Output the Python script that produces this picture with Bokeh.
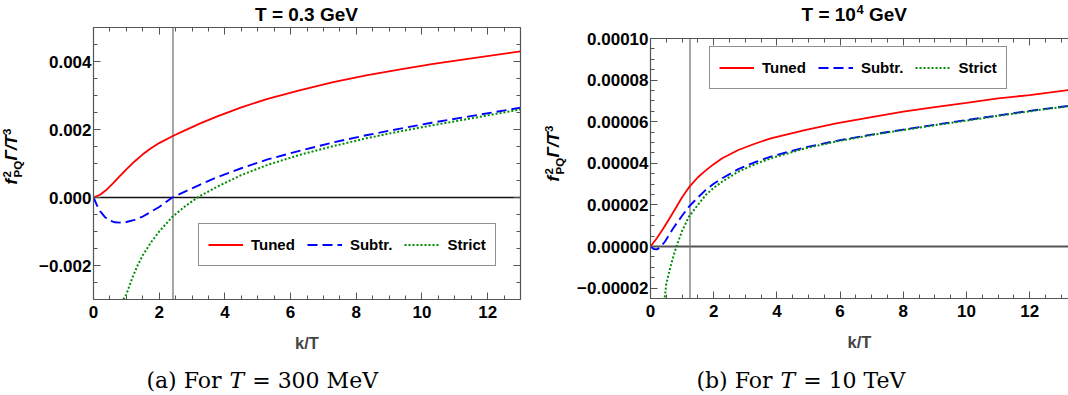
import math
import numpy as np
from bokeh.plotting import figure
from bokeh.models import (Span, Label, Legend, LegendItem, LinearAxis, FixedTicker,
                          CustomJSTickFormatter, Range1d)
from bokeh.layouts import row, column
from bokeh.embed import file_html
from bokeh.resources import INLINE

# ---------------- data: panel (a) T = 0.3 GeV ----------------
a_tuned_k = [0, 0.2, 0.4, 0.6, 0.8, 1.0, 1.25, 1.5, 1.75, 2.0, 2.4, 2.8, 3.25, 3.75, 4.5, 5.3,
             6.3, 7.3, 8.3, 9.3, 10.3, 11.4, 12.2, 13.0]
a_tuned_v = [0, 0.00008, 0.00023, 0.00042, 0.00063, 0.00083, 0.00106, 0.00127, 0.00145, 0.0016,
             0.0018, 0.00198, 0.00218, 0.00238, 0.00265, 0.0029, 0.00316, 0.00339, 0.00359,
             0.00376, 0.00392, 0.00408, 0.00419, 0.0043]
a_subtr_k = [0, 0.1, 0.2, 0.35, 0.5, 0.65, 0.8, 1.0, 1.25, 1.5, 1.75, 2.0, 2.4, 2.8, 3.25, 3.75,
             4.5, 5.3, 6.3, 7.3, 8.3, 9.3, 10.3, 11.4, 12.2, 13.0]
a_subtr_v = [0, -0.00022, -0.0004, -0.00058, -0.00068, -0.00073, -0.00074, -0.00072, -0.00066,
             -0.00056, -0.00042, -0.00028, 0.0, 0.00018, 0.00038, 0.00059, 0.00086, 0.00112,
             0.00138, 0.00162, 0.00183, 0.00202, 0.0022, 0.00238, 0.00251, 0.00264]
a_strict_k = [0.91, 1.0, 1.1, 1.2, 1.35, 1.5, 1.75, 2.0, 2.4, 2.8, 3.2, 3.75, 4.5, 5.3, 6.3, 7.3,
              8.3, 9.3, 10.3, 11.4, 12.2, 13.0]
a_strict_v = [-0.003, -0.00285, -0.00258, -0.00232, -0.00198, -0.0017, -0.00132, -0.001,
              -0.00057, -0.00025, 0.00002, 0.00031, 0.00066, 0.00096, 0.00126, 0.00151, 0.00174,
              0.00194, 0.00212, 0.00231, 0.00245, 0.00259]
a_kcut = 2.42

# ---------------- data: panel (b) T = 10^4 GeV ----------------
b_tuned_k = [0, 0.2, 0.4, 0.6, 0.8, 1.0, 1.22, 1.5, 1.75, 2.0, 2.27, 2.78, 3.3, 3.81, 4.85, 5.88,
             7, 8, 9, 10, 11, 12, 13.23]
b_tuned_v = [0, 0.000004, 0.0000085, 0.0000135, 0.0000185, 0.0000237, 0.0000285, 0.0000333,
             0.0000366, 0.0000396, 0.0000424, 0.0000464, 0.0000494, 0.000052, 0.0000558,
             0.0000592, 0.0000622, 0.0000648, 0.000067, 0.000069, 0.0000712, 0.0000728, 0.0000752]
b_subtr_k = [0, 0.1, 0.2, 0.3, 0.46, 0.72, 1.0, 1.22, 1.5, 1.75, 2.0, 2.27, 2.78, 3.3, 3.81, 4.85,
             5.88, 7, 8, 9, 10, 11, 12, 13.23]
b_subtr_v = [0, -0.0000012, -0.0000014, -0.0000006, 0.0000024, 0.0000088, 0.0000148, 0.0000192,
             0.0000236, 0.0000272, 0.0000302, 0.0000328, 0.0000372, 0.0000405, 0.0000432,
             0.0000475, 0.0000508, 0.0000538, 0.0000562, 0.0000585, 0.0000608, 0.000063,
             0.0000652, 0.0000676]
b_strict_k = [0.45, 0.5, 0.62, 0.72, 0.82, 1.0, 1.22, 1.5, 1.75, 2.0, 2.27, 2.78, 3.3, 3.81, 4.85,
              5.88, 7, 8, 9, 10, 11, 12, 13.23]
b_strict_v = [-0.0000245, -0.000018, -0.0000104, -0.000005, 0.0, 0.0000075, 0.0000144, 0.00002,
              0.0000248, 0.0000282, 0.0000312, 0.000036, 0.0000395, 0.0000424, 0.000047,
              0.0000505, 0.0000536, 0.000056, 0.0000583, 0.0000605, 0.0000628, 0.000065, 0.0000675]
b_kcut = 1.25

# ---------------- ticks / labels ----------------
x_ticks = [0, 2, 4, 6, 8, 10, 12]
a_y_ticks = [-0.002, 0.0, 0.002, 0.004]
b_y_ticks = [-0.00002, 0.0, 0.00002, 0.00004, 0.00006, 0.00008, 0.0001]
series_names = ["Tuned", "Subtr.", "Strict"]
x_title = "k/T"
a_title = "T = 0.3 GeV"
b_title = ("T = 10", "4", "GeV")
y_title = ("f", "2", "PQ", "\u0393/", "T", "3")
a_caption = ("(a) For", "T", "= 300 MeV")
b_caption = ("(b) For", "T", "= 10 TeV")

SANS = "Liberation Sans"
SERIF = "DejaVu Serif"
FRAME = "#555555"
COLORS = ["#ff0000", "#0000ff", "#008c00"]
DASHES = ["solid", "10 5", "2 2"]
WIDTHS = [1.8, 1.9, 2.0]
TICK_FS = "17px"
MID = 0.345  # baseline offset below a 'middle' anchor, in em


def style_axis(ax, show_labels, digits=None):
    ax.axis_line_color = FRAME
    ax.axis_line_width = 1.2
    ax.major_tick_line_color = FRAME
    ax.minor_tick_line_color = FRAME
    ax.major_tick_in = 7
    ax.major_tick_out = 0
    ax.minor_tick_in = 4
    ax.minor_tick_out = 0
    ax.major_label_text_font = SANS
    ax.major_label_text_font_style = "bold"
    ax.major_label_text_font_size = TICK_FS
    ax.major_label_text_color = "black"
    if not show_labels:
        ax.formatter = CustomJSTickFormatter(code="return '';")
        ax.major_label_text_font_size = "1px"
        ax.major_label_standoff = 0
    elif digits is not None:
        ax.formatter = CustomJSTickFormatter(
            code="return (tick < 0 ? '\u2212' : '') + Math.abs(tick).toFixed(%d);" % digits)


def make_panel(width, height, bl, br, bt, bb, x_end, y_lo, y_hi, y_ticks, y_minor_step, digits,
               with_right):
    p = figure(width=width, height=height, x_range=Range1d(0, x_end),
               y_range=Range1d(y_lo, y_hi),
               output_backend="svg", toolbar_location=None, title=None,
               min_border_left=bl, min_border_right=br, min_border_top=bt, min_border_bottom=bb)
    p.outline_line_color = None
    p.xgrid.visible = False
    p.ygrid.visible = False
    p.background_fill_color = "white"
    p.border_fill_color = "white"

    x_minor = list(np.arange(0, x_end + 0.01, 0.5))
    y_minor = list(np.arange(y_lo, y_hi + y_minor_step * 0.01, y_minor_step))

    p.xaxis[0].ticker = FixedTicker(ticks=x_ticks, minor_ticks=x_minor)
    style_axis(p.xaxis[0], True)
    p.xaxis[0].major_label_standoff = 6
    p.xaxis[0].axis_label = x_title
    p.xaxis[0].axis_label_text_font = SANS
    p.xaxis[0].axis_label_text_font_style = "bold"
    p.xaxis[0].axis_label_text_font_size = "16.5px"
    p.xaxis[0].axis_label_standoff = 13

    p.yaxis[0].ticker = FixedTicker(ticks=y_ticks, minor_ticks=y_minor)
    style_axis(p.yaxis[0], True, digits)
    p.yaxis[0].major_label_standoff = 2

    top = LinearAxis(ticker=FixedTicker(ticks=x_ticks, minor_ticks=x_minor))
    style_axis(top, False)
    p.add_layout(top, "above")
    if with_right:
        right = LinearAxis(ticker=FixedTicker(ticks=y_ticks, minor_ticks=y_minor))
        style_axis(right, False)
        p.add_layout(right, "right")
    return p


def add_curves(p, data, kcut, zero_color, zero_width, legend_loc):
    p.add_layout(Span(location=0, dimension="width", line_color=zero_color,
                      line_width=zero_width, level="underlay"))
    p.add_layout(Span(location=kcut, dimension="height", line_color="#777777",
                      line_width=1.3, level="underlay"))
    items = []
    for (k, v), name, c, d, w in zip(data, series_names, COLORS, DASHES, WIDTHS):
        r = p.line(k, v, line_color=c, line_dash=d, line_width=w)
        items.append(LegendItem(label=name, renderers=[r]))
    leg = Legend(items=items, orientation="horizontal", location=legend_loc,
                 glyph_width=35, glyph_height=23, label_height=23, label_standoff=8,
                 spacing=12, padding=9, margin=0,
                 label_text_font=SANS, label_text_font_style="bold",
                 label_text_font_size="15px", label_text_color="black",
                 border_line_color="#222222", border_line_width=1.2,
                 background_fill_color="white", background_fill_alpha=1.0)
    p.add_layout(leg)


def text_fig(w, h):
    f = figure(width=w, height=h, x_range=Range1d(0, w), y_range=Range1d(0, h),
               output_backend="svg", toolbar_location=None, title=None,
               x_axis_type=None, y_axis_type=None, min_border=0)
    f.outline_line_color = None
    f.background_fill_color = "white"
    f.border_fill_color = "white"
    return f


def htext(p, x, base_y, text, size, style="bold", font=SANS, align="left"):
    """horizontal text whose baseline sits at base_y (pixels from figure bottom)"""
    p.add_layout(Label(x=x, y=base_y + MID * size, x_units="screen", y_units="screen",
                       text=text, text_font=font, text_font_style=style,
                       text_font_size=f"{size}px", text_align=align, text_baseline="middle",
                       text_color="black"))


def vtext(p, base_x, start_y, width, text, size, style):
    """text rotated 90deg CCW; baseline near base_x, text begins near start_y"""
    p.add_layout(Label(x=base_x - MID * size, y=start_y + width / 2.0, x_units="screen",
                       y_units="screen", text=text, text_font=SANS, text_font_style=style,
                       text_font_size=f"{size}px", text_align="center",
                       text_baseline="middle", angle=math.pi / 2, text_color="black"))


def ylabel(p, bx, by):
    big, small = 17, 11.5
    vtext(p, bx, by, 0.333 * big, y_title[0], big, "bold italic")
    vtext(p, bx - 7, by + 7, 0.556 * small, y_title[1], small, "bold")
    vtext(p, bx + 4, by + 7, 1.445 * small, y_title[2], small, "bold")
    vtext(p, bx, by + 24, 0.889 * big, y_title[3], big, "bold italic")
    vtext(p, bx, by + 39, 0.611 * big, y_title[4], big, "bold italic")
    vtext(p, bx - 7, by + 49.5, 0.556 * small, y_title[5], small, "bold")


def caption(p, xT, base_y, parts):
    htext(p, xT - 8, base_y, parts[0], 22, "normal", SERIF, "right")
    htext(p, xT, base_y, parts[1], 22, "italic", SERIF, "left")
    htext(p, xT + 22.7, base_y, parts[2], 22, "normal", SERIF, "left")


TITLE_H, MAIN_H, CAP_H = 25, 335, 35
YLAB_WA, YLAB_WB = 34, 40

# ---------------- panel (a) ----------------
p1 = make_panel(534 - YLAB_WA, MAIN_H, 93 - YLAB_WA, 14, 2, 61, 13.0, -0.003, 0.005, a_y_ticks,
                0.0005, 3, True)
add_curves(p1, [(a_tuned_k, a_tuned_v), (a_subtr_k, a_subtr_v), (a_strict_k, a_strict_v)],
           a_kcut, "#111111", 1.5, (105, 33))
ta = text_fig(534, TITLE_H)
htext(ta, 306, 4.3, a_title, 19, "bold", align="center")
ya = text_fig(YLAB_WA, MAIN_H)
ylabel(ya, 17, 115)
ca = text_fig(534, CAP_H)
caption(ca, 229, 7, a_caption)

# ---------------- panel (b) ----------------
p2 = make_panel(534 - YLAB_WB, MAIN_H, 115 - YLAB_WB, 0, 13, 62, 13.23, -0.000025, 0.0001,
                b_y_ticks, 0.000005, 5, False)
add_curves(p2, [(b_tuned_k, b_tuned_v), (b_subtr_k, b_subtr_v), (b_strict_k, b_strict_v)],
           b_kcut, "#555555", 2.0, (59, 209))
tb = text_fig(534, TITLE_H)
htext(tb, 267, 4.3, b_title[0], 19, "bold")
htext(tb, 322, 11.3, b_title[1], 13, "bold")
htext(tb, 334.5, 4.3, b_title[2], 19, "bold")
yb = text_fig(YLAB_WB, MAIN_H)
ylabel(yb, 25, 117)
cb = text_fig(534, CAP_H)
caption(cb, 246, 7, b_caption)

col_a = column(ta, row(ya, p1), ca)
col_b = column(tb, row(yb, p2), cb)
layout = row(col_a, col_b)
open("out.html", "w").write(file_html(layout, INLINE))
